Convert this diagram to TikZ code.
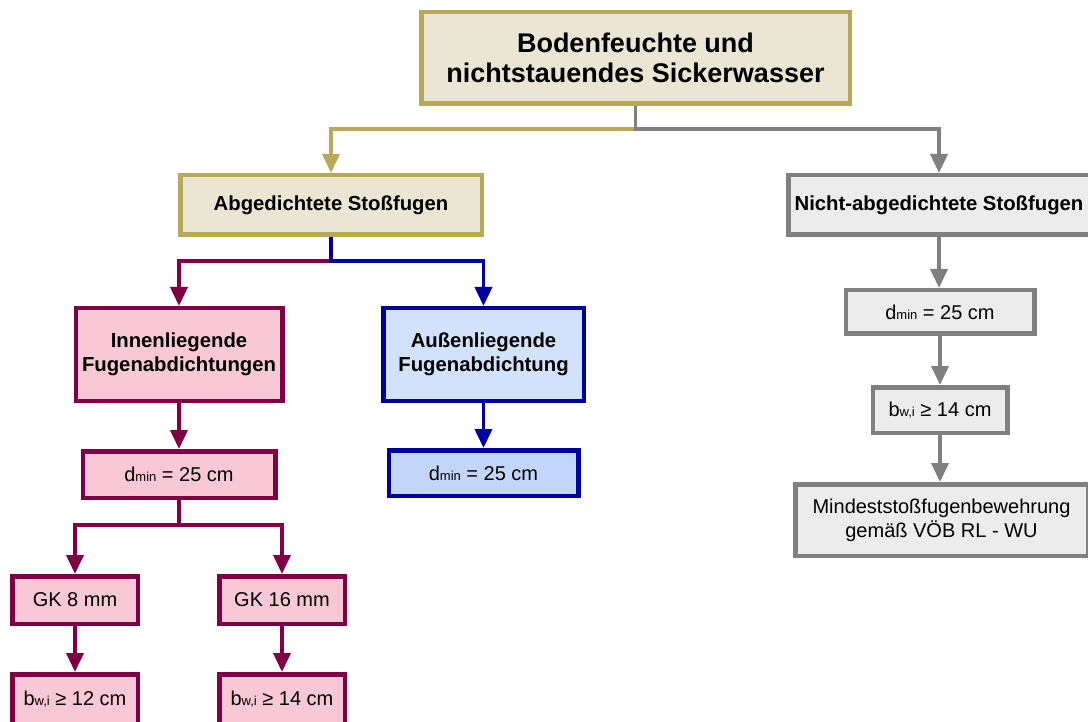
\documentclass[tikz,border=0pt]{standalone}
\usepackage{fontspec}
\setmainfont{Liberation Sans}
\usetikzlibrary{arrows.meta,calc}
\definecolor{khakiB}{HTML}{B8A85A}
\definecolor{khakiF}{HTML}{EBE6D3}
\definecolor{greyB}{HTML}{808080}
\definecolor{greyF}{HTML}{ECECEC}
\definecolor{maroonB}{HTML}{800045}
\definecolor{pinkF}{HTML}{F9C8D7}
\definecolor{blueB}{HTML}{0000A0}
\definecolor{blueF}{HTML}{D3E2FB}
\definecolor{blueF2}{HTML}{C3D6F9}
\newcommand{\subtxt}[1]{{\fontsize{13}{13}\selectfont #1}}
\tikzset{
  box/.style={draw, line width=4.5pt, inner sep=0pt, align=center, text=black},
  kbox/.style={box, draw=khakiB, fill=khakiF},
  gbox/.style={box, draw=greyB, fill=greyF},
  mbox/.style={box, draw=maroonB, fill=pinkF},
  bbox/.style={box, draw=blueB, fill=blueF},
  bigbold/.style={font=\bfseries\fontsize{27}{29.5}\selectfont},
  midbold/.style={font=\bfseries\fontsize{20.3}{24}\selectfont},
  plain/.style={font=\fontsize{20}{24}\selectfont},
  conn/.style={line width=3.8pt},
  tipped/.style={-{Triangle[length=19pt,width=17pt]}},
  sz/.style n args={2}{minimum width=#1pt-4.5pt, minimum height=#2pt-4.5pt},
}
\begin{document}
\begin{tikzpicture}[x=1pt,y=-1pt]
\useasboundingbox (0,0) rectangle (1088,722);
\clip (0,0) rectangle (1088,722);

% nodes
\node[kbox, bigbold, sz={433}{96}] (top) at (635.5,58) {Bodenfeuchte und\\nichtstauendes Sickerwasser};
\node[kbox, midbold, sz={306}{64}] (abg) at (331,205) {Abgedichtete Stoßfugen};
\node[gbox, midbold, sz={306}{64}] (nab) at (939,205) {Nicht-abgedichtete Stoßfugen};
\node[gbox, plain, sz={193}{48}] (dg) at (940,312) {d\subtxt{min} = 25 cm};
\node[gbox, plain, sz={139}{50}] (bg) at (940,410) {b\subtxt{w,i} ≥ 14 cm};
\node[gbox, plain, sz={297}{76}] (mind) at (941.5,520) {Mindeststoßfugenbewehrung\\gemäß VÖB RL - WU};

\node[mbox, midbold, sz={211}{97}] (inn) at (179,354.5) {Innenliegende\\Fugenabdichtungen};
\node[bbox, midbold, sz={205}{97}] (aus) at (483.5,354.5) {Außenliegende\\Fugenabdichtung};
\node[mbox, plain, sz={197}{51}] (dm) at (179,474.5) {d\subtxt{min} = 25 cm};
\node[bbox, fill=blueF2, plain, sz={194}{50}] (db) at (483.5,473) {d\subtxt{min} = 25 cm};
\node[mbox, plain, sz={130}{52}] (gk8) at (75,600) {GK 8 mm};
\node[mbox, plain, sz={130}{52}] (gk16) at (282,600) {GK 16 mm};
\node[mbox, plain, sz={130}{54}] (bw12) at (75,699) {b\subtxt{w,i} ≥ 12 cm};
\node[mbox, plain, sz={130}{54}] (bw14) at (282,699) {b\subtxt{w,i} ≥ 14 cm};

% junctions
\coordinate (j1) at ($(top.south)+(0,23)$);
\coordinate (j2) at ($(abg.south)+(0,24)$);
\coordinate (j3) at ($(dm.south)+(0,25)$);

% connectors
\draw[conn, khakiB, tipped] (j1) -| (abg.north);
\draw[conn, greyB, tipped] (top.south) -- (j1) -| (nab.north);
\draw[conn, greyB, tipped] (nab.south) -- (nab.south |- dg.north);
\draw[conn, greyB, tipped] (dg.south) -- (dg.south |- bg.north);
\draw[conn, greyB, tipped] (bg.south) -- (bg.south |- mind.north);

\draw[conn, maroonB, tipped] (j2) -| (inn.north);
\draw[conn, blueB, tipped] (abg.south) -- (j2) -| (aus.north);
\draw[conn, maroonB, tipped] (inn.south) -- (dm.north);
\draw[conn, blueB, tipped] (aus.south) -- (aus.south |- db.north);
\draw[conn, maroonB, tipped] (dm.south) -- (j3) -| (gk8.north);
\draw[conn, maroonB, tipped] (j3) -| (gk16.north);
\draw[conn, maroonB, tipped] (gk8.south) -- (bw12.north);
\draw[conn, maroonB, tipped] (gk16.south) -- (bw14.north);
\end{tikzpicture}
\end{document}
